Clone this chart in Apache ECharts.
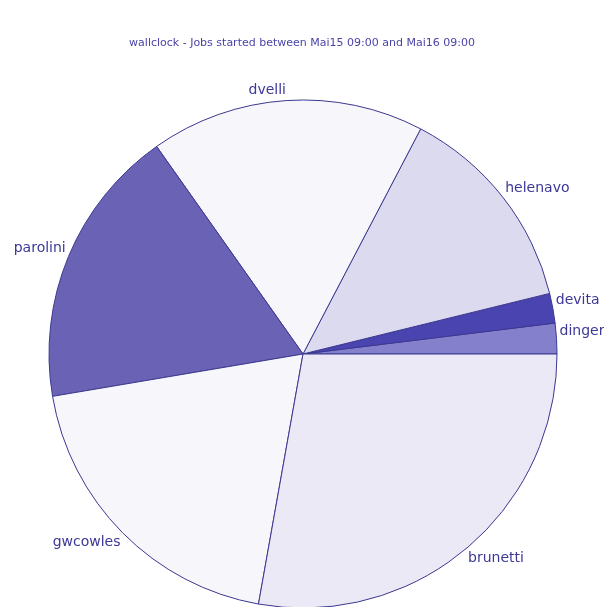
<!DOCTYPE html>
<html>
<head>
<meta charset="utf-8">
<script src="https://cdn.jsdelivr.net/npm/echarts@6/dist/echarts.min.js"></script>
<style>
  html, body { margin: 0; padding: 0; background: #fff; }
  #chart { width: 604px; height: 607px; }
</style>
</head>
<body>
<div id="chart"></div>
<script>
// wallclock share per user (in degrees)
const users = ['dinger', 'devita', 'helenavo', 'dvelli', 'parolini', 'gwcowles', 'brunetti'];
const wallclock = [7.0, 6.8, 48.6, 62.8, 64.4, 70.3, 100.1];
const colors = ['#8480cc', '#4a44b0', '#dcdaef', '#f7f6fb', '#6a62b4', '#f7f6fb', '#ebe9f5'];

const cx = 303;
const cy = 354;
const radius = 254;
const total = wallclock.reduce((a, b) => a + b, 0);

// mid angle (degrees, counter-clockwise from 3 o'clock) of each slice
function midAngle(idx) {
  let before = 0;
  for (let i = 0; i < idx; i++) before += wallclock[i];
  return ((before + wallclock[idx] / 2) / total) * 360;
}

const chart = echarts.init(document.getElementById('chart'));
const option = {
  backgroundColor: '#ffffff',
  animation: false,
  title: {
    text: 'wallclock - Jobs started between Mai15 09:00 and Mai16 09:00',
    left: 'center',
    top: 33,
    textStyle: {
      color: '#4a44a8',
      fontSize: 11,
      fontWeight: 'normal',
      fontFamily: 'DejaVu Sans',
    },
  },
  series: [
    {
      type: 'pie',
      center: [cx, cy],
      radius: radius,
      startAngle: 0,
      clockwise: false,
      avoidLabelOverlap: false,
      itemStyle: {
        borderColor: '#3c3890',
        borderWidth: 1,
      },
      label: {
        position: 'outside',
        color: '#3c3898',
        fontSize: 14,
        fontFamily: 'DejaVu Sans',
      },
      labelLine: { show: false },
      // text box touches a point just outside the rim, on the slice's mid angle
      labelLayout: function (params) {
        const a = (midAngle(params.dataIndex) * Math.PI) / 180;
        const c = Math.cos(a);
        const s = Math.sin(a);
        return {
          x: cx + (radius + 3) * c,
          y: cy - (radius + 3) * s,
          align: c >= 0 ? 'left' : 'right',
          verticalAlign: s >= 0 ? 'bottom' : 'top',
        };
      },
      emphasis: { disabled: true },
      data: users.map((u, i) => ({
        name: u,
        value: wallclock[i],
        itemStyle: { color: colors[i] },
      })),
    },
  ],
};
chart.setOption(option);
</script>
</body>
</html>
